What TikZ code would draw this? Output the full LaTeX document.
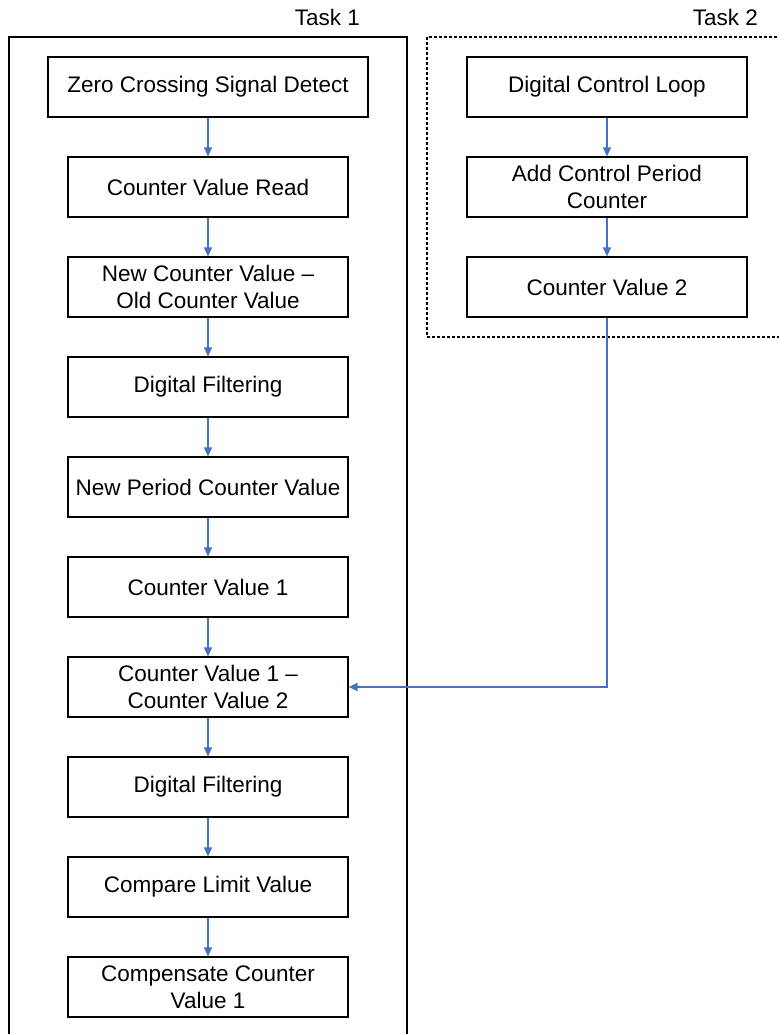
\documentclass[tikz,border=0pt]{standalone}
\usepackage{fontspec}
\setmainfont{Liberation Sans}
\usetikzlibrary{arrows.meta}
\definecolor{flowblue}{RGB}{68,114,196}
\begin{document}
\begin{tikzpicture}[x=1pt,y=-1pt,
  stepbox/.style={draw=black, line width=1.2pt, minimum width=280pt, minimum height=60pt,
    inner sep=0pt, align=center, font=\fontsize{22.5}{27}\selectfont},
  widebox/.style={stepbox, minimum width=320pt},
  flow/.style={draw=flowblue, line width=1.3pt, -{Triangle[length=9pt,width=8pt]}},
  tasklabel/.style={font=\fontsize{22.5}{27}\selectfont, anchor=base east, inner sep=0pt},
  taskframe/.style={draw=black, line width=1.2pt},
  dashframe/.style={draw=black, line width=1.2pt, dash pattern=on 3pt off 2pt}]
\useasboundingbox (0,0) rectangle (779,1034);
% frames
\draw[taskframe] (9,1045) -- (9,37) -- (407,37) -- (407,1045);
\draw[dashframe] (790,337) -- (427,337) -- (427,37) -- (790,37);
\node[tasklabel] (t1) at (360,25) {Task 1};
\node[tasklabel] (t2) at (758,25) {Task 2};
% left column
\node[widebox] (a1) at (208,87) {Zero Crossing Signal Detect};
\node[stepbox] (a2) at (208,187) {Counter Value Read};
\node[stepbox] (a3) at (208,287) {New Counter Value --\\Old Counter Value};
\node[stepbox] (a4) at (208,387) {Digital Filtering};
\node[stepbox] (a5) at (208,487) {New Period Counter Value};
\node[stepbox] (a6) at (208,587) {Counter Value 1};
\node[stepbox] (a7) at (208,687) {Counter Value 1 --\\Counter Value 2};
\node[stepbox] (a8) at (208,787) {Digital Filtering};
\node[stepbox] (a9) at (208,887) {Compare Limit Value};
\node[stepbox] (a10) at (208,987) {Compensate Counter\\Value 1};
% right column
\node[stepbox] (b1) at (607,87) {Digital Control Loop};
\node[stepbox] (b2) at (607,187) {Add Control Period\\Counter};
\node[stepbox] (b3) at (607,287) {Counter Value 2};
% connectors
\foreach \i/\j in {a1/a2,a2/a3,a3/a4,a4/a5,a5/a6,a6/a7,a7/a8,a8/a9,a9/a10,b1/b2,b2/b3}
  \draw[flow] (\i.south) -- (\j.north);
\draw[flow] (b3.south) |- (a7.east);
\end{tikzpicture}
\end{document}
